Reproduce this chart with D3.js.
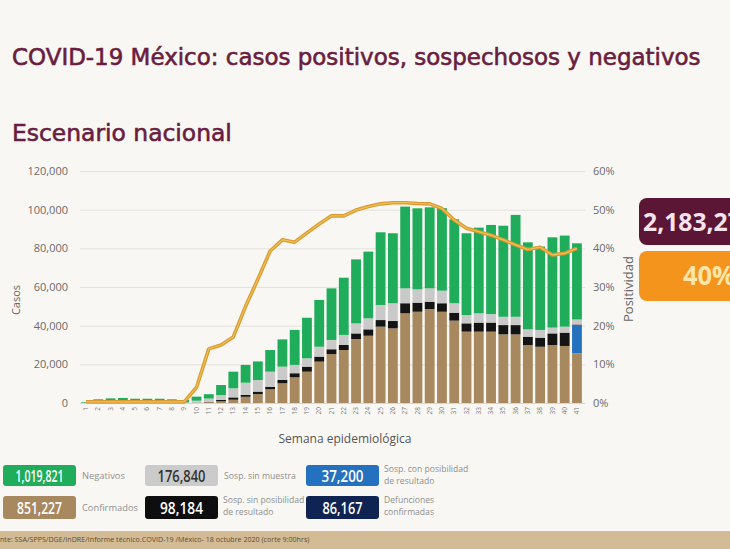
<!DOCTYPE html>
<html><head><meta charset="utf-8">
<script src="https://cdn.jsdelivr.net/npm/d3@7"></script>
<style>
body{margin:0;background:#f9f7f3;}
svg{display:block;font-family:"Open Sans",sans-serif;}
</style></head>
<body>
<svg id="c" width="730" height="549"></svg>
<script>
// ---- data ----
const semanas = ["1","2","3","4","5","6","7","8","9","10","11","12","13","14","15","16","17","18","19","20","21","22","23","24","25","26","27","28","29","30","31","32","33","34","35","36","37","38","39","40","41"];
const confirmados = [0,0,0,0,0,0,0,0,0,100,400,900,1700,3200,4600,7100,10200,13300,16200,21400,25300,27400,33100,34800,39500,38600,46400,47200,48600,47200,42600,36900,36900,36900,35500,35500,30000,29100,30000,29500,25700];
const sospConPosibilidad = [0,0,0,0,0,0,0,0,0,0,0,0,0,0,0,0,0,0,0,0,0,0,0,0,0,0,0,0,0,0,0,0,0,0,0,0,0,0,0,0,14600];
const sospSinPosibilidad = [0,0,0,0,0,0,0,0,0,100,200,700,1200,1000,1300,1300,1700,2100,2600,2600,2500,2600,2900,3300,3400,3800,5200,4700,3800,4400,4100,4300,4700,4700,4800,4800,4300,4700,6000,6900,300];
const sospSinMuestra = [0,300,300,300,300,300,300,300,300,1000,1700,2500,4700,6300,6000,7800,6900,4300,4300,5100,4800,5200,5200,5700,7800,9200,7700,6900,6900,6500,4900,4300,4800,4400,4300,4300,3800,4000,3000,3100,2600];
const negativos = [350,1600,2100,2300,1900,1900,1900,1600,1250,2100,2250,5200,8600,9200,9600,11200,14100,18100,21000,24200,26700,29600,33100,34500,37600,36200,42300,41900,41900,42700,43400,42300,44300,46100,47100,52700,45000,43100,46700,47100,39400];
const positividad = [0.3,0.3,0.3,0.3,0.3,0.3,0.3,0.3,0.3,4.0,14.0,15.0,17.1,25.0,32.0,39.3,42.2,41.6,44.0,46.3,48.4,48.4,49.9,50.8,51.5,51.8,51.8,51.6,51.5,50.3,47.3,45.2,44.3,43.4,42.2,40.9,39.7,40.3,38.3,38.7,40.0];
const casosTicks = [0,20000,40000,60000,80000,100000,120000];
const pctTicks = [0,10,20,30,40,50,60];
const serieKeys = ["confirmados","sospConPosibilidad","sospSinPosibilidad","sospSinMuestra","negativos"];
const serieColors = ["#a8895f","#2471c0","#141414","#c9c9c9","#20ad5b"];
const legendValues = ["1,019,821","851,227","176,840","98,184","37,200","86,167"];
const legendLabels = [["Negativos"],["Confirmados"],["Sosp. sin muestra"],["Sosp. sin posibilidad","de resultado"],["Sosp. con posibilidad","de resultado"],["Defunciones","confirmadas"]];
const legendColors = ["#20ad5b","#a8895f","#cbcbcb","#0e0e0e","#2471c0","#0f2452"];
const legendTextColors = ["#ffffff","#ffffff","#333333","#ffffff","#ffffff","#ffffff"];
const totalPruebas = "2,183,272";
const positividadTotal = "40%";
const titulo = "COVID-19 México: casos positivos, sospechosos y negativos";
const subtitulo = "Escenario nacional";
const fuente = "Fuente: SSA/SPPS/DGE/InDRE/Informe técnico.COVID-19 /México- 18 octubre 2020 (corte 9:00hrs)";

// ---- build ----
const svg = d3.select("#c");
svg.append("rect").attr("width",730).attr("height",549).attr("fill","#f9f7f3");

function fit(sel, w){
  const n = sel.node(); const fs = parseFloat(sel.attr("font-size"));
  const l = n.getComputedTextLength(); sel.attr("font-size", fs*w/l);
  return sel;
}

const maroon = "#6a1d40";
fit(svg.append("text").attr("x",12).attr("y",65).attr("font-size",21).attr("font-family","DejaVu Sans")
  .attr("fill",maroon).attr("stroke",maroon).attr("stroke-width",0.6).text(titulo), 689);
fit(svg.append("text").attr("x",12).attr("y",141).attr("font-size",20).attr("font-family","DejaVu Sans")
  .attr("fill",maroon).attr("stroke",maroon).attr("stroke-width",0.6).text(subtitulo), 220);

const plotTop = 171, plotBottom = 403;
const x = d3.scaleBand().domain(semanas).range([79.9, 583.1]).paddingInner(0.2).paddingOuter(0.1);
const y = d3.scaleLinear().domain([0,120000]).range([plotBottom, plotTop]);
const y2 = d3.scaleLinear().domain([0,60]).range([plotBottom, plotTop]);

// gridlines + left axis
const ga = svg.append("g").attr("transform","translate(80,0)")
  .call(d3.axisLeft(y).tickValues(casosTicks).tickSize(-505).tickFormat(d3.format(",")));
ga.select(".domain").remove();
ga.selectAll(".tick line").attr("stroke","#e3e1dd").attr("stroke-width",1);
ga.selectAll(".tick text").attr("x",-12).attr("fill","#6a6a6a").attr("font-size",11).attr("font-family","Open Sans");

// right axis
const gr = svg.append("g").attr("transform","translate(585,0)")
  .call(d3.axisRight(y2).tickValues(pctTicks).tickSize(0).tickFormat(d=>d+"%"));
gr.select(".domain").remove();
gr.selectAll(".tick text").attr("x",8).attr("fill","#6a6a6a").attr("font-size",11).attr("font-family","Open Sans");

// stacked bars
const rows = semanas.map((s,i)=>({semana:s, confirmados:confirmados[i], sospConPosibilidad:sospConPosibilidad[i], sospSinPosibilidad:sospSinPosibilidad[i], sospSinMuestra:sospSinMuestra[i], negativos:negativos[i]}));
const stack = d3.stack().keys(serieKeys)(rows);
svg.append("g").selectAll("g").data(stack).join("g").attr("fill",(d,i)=>serieColors[i])
  .selectAll("rect").data(d=>d).join("rect")
  .attr("x",d=>x(d.data.semana)).attr("width",x.bandwidth())
  .attr("y",d=>y(d[1])).attr("height",d=>Math.max(0,y(d[0])-y(d[1])));

// baseline
svg.append("line").attr("x1",80).attr("x2",585).attr("y1",plotBottom+0.5).attr("y2",plotBottom+0.5).attr("stroke","#d8d6d2");

// positivity line
const line = d3.line().x((d,i)=>x(semanas[i])+x.bandwidth()/2).y(d=>y2(d));
svg.append("path").datum(positividad).attr("d",line).attr("fill","none").attr("stroke","#d99a32").attr("stroke-width",3.6).attr("stroke-linejoin","round");
svg.append("path").datum(positividad).attr("d",line).attr("fill","none").attr("stroke","#f0c055").attr("stroke-width",1.2).attr("stroke-linejoin","round");

// x tick labels
const gx = svg.append("g").attr("transform",`translate(0,${plotBottom})`)
  .call(d3.axisBottom(x).tickSize(0));
gx.select(".domain").remove();
gx.selectAll(".tick text").attr("transform","rotate(-90)").attr("text-anchor","end").attr("x",-4).attr("y",0).attr("dy","0.32em")
  .attr("font-size",6.5).attr("fill","#777").attr("font-family","Open Sans");

// axis titles
svg.append("text").attr("transform","translate(20,300) rotate(-90)").attr("text-anchor","middle").attr("font-size",11).attr("fill","#666").text("Casos");
svg.append("text").attr("transform","translate(633,289) rotate(-90)").attr("text-anchor","middle").attr("font-size",13).attr("fill","#666").text("Positividad");
svg.append("text").attr("x",345).attr("y",443).attr("text-anchor","middle").attr("font-size",12).attr("fill","#555").text("Semana epidemiológica");

// right boxes (cut by the window edge as in the reference)
svg.append("rect").attr("x",639).attr("y",198).attr("width",140).attr("height",47).attr("rx",8).attr("fill","#5b1636");
svg.append("text").attr("x",643).attr("y",231).attr("font-size",25).attr("font-weight",700).attr("fill","#f6e3ec")
  .attr("textLength",113).attr("lengthAdjust","spacingAndGlyphs").text(totalPruebas);
svg.append("rect").attr("x",639).attr("y",251).attr("width",140).attr("height",50).attr("rx",8).attr("fill","#f5941d");
svg.append("text").attr("x",683).attr("y",285).attr("font-size",26).attr("font-weight",700).attr("fill","#fde6a8")
  .attr("textLength",52).attr("lengthAdjust","spacingAndGlyphs").text(positividadTotal);

// legend
const lx = [3,3,145,145,306,306], ly = [465,496,465,496,465,496], lh=[21,23,21,23,21,23];
const valW = [48,45,48,43,42,40];
const labW = [[43],[56],[72],[73,44],[77,44],[45,44]];
legendValues.forEach((v,i)=>{
  svg.append("rect").attr("x",lx[i]).attr("y",ly[i]).attr("width",73).attr("height",lh[i]).attr("rx",3).attr("fill",legendColors[i]);
  const g = svg.append("g");
  const t = g.append("text").attr("x",0).attr("y",0).attr("dy","0.36em").attr("text-anchor","middle")
    .attr("font-size",17).attr("font-weight",600).attr("fill",legendTextColors[i]).text(v);
  const sx = valW[i]/t.node().getComputedTextLength();
  g.attr("transform",`translate(${lx[i]+36.5},${ly[i]+lh[i]/2}) scale(${sx},1)`);
  const labs = legendLabels[i];
  if(labs.length===1){
    fit(svg.append("text").attr("x",lx[i]+79).attr("y",ly[i]+lh[i]/2).attr("dy","0.35em").attr("font-size",10).attr("fill","#8f8f8f").text(labs[0]), labW[i][0]);
  } else {
    labs.forEach((s,j)=>svg.append("text").attr("x",lx[i]+78).attr("y",ly[i]+7+j*12).attr("font-size",8.6).attr("fill","#8f8f8f").text(s));
  }
});

// footer
svg.append("rect").attr("x",0).attr("y",531).attr("width",730).attr("height",18).attr("fill","#d3bc95");
const ft = svg.append("text").attr("x",0).attr("y",542).attr("font-size",8).attr("fill","#5d4c34").text(fuente);
{
  const n = ft.node();
  const L = n.getComputedTextLength(), p = n.getSubStringLength(0,3);
  const fs = 8*310/(L-p);
  ft.attr("font-size",fs);
  const p2 = n.getSubStringLength(0,3);
  ft.attr("x",-p2);
}
</script>
</body></html>
